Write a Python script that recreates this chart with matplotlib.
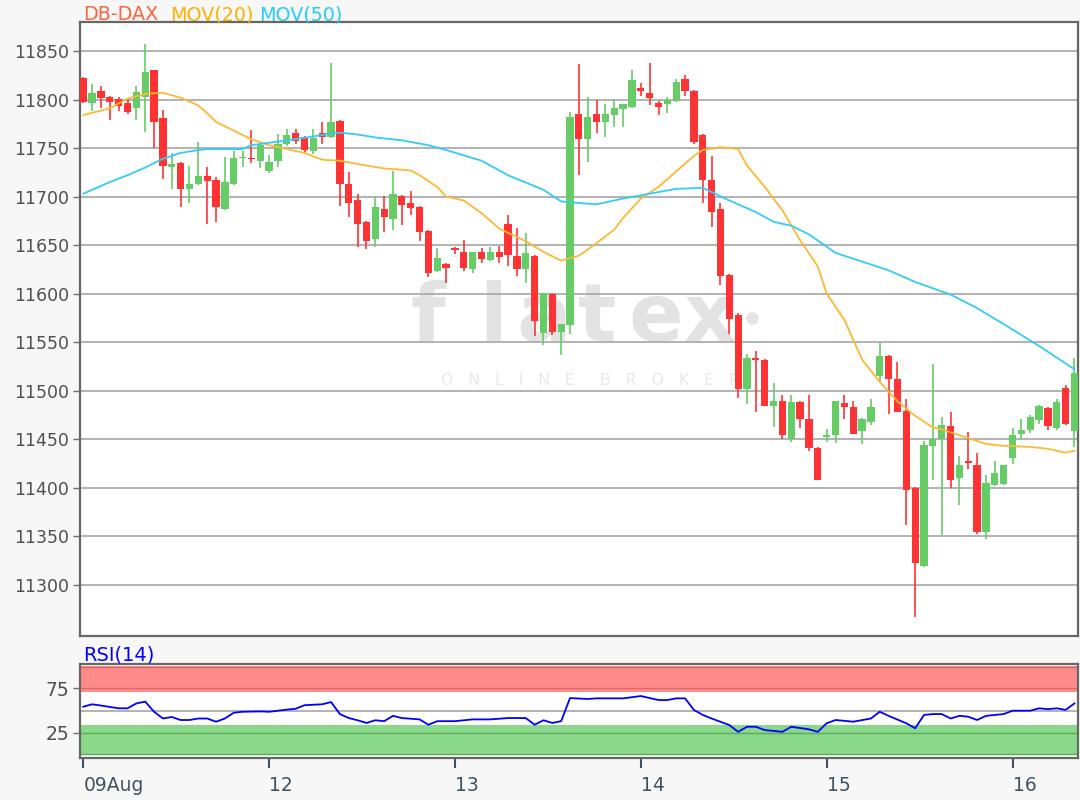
import matplotlib
matplotlib.use('Agg')
import matplotlib.pyplot as plt
import numpy as np

# ---------------- data ----------------
day_labels = ['09Aug', '12', '13', '14', '15', '16']
day_start = [0, 21, 42, 63, 84, 105]

opens = [11822, 11796, 11809, 11803, 11801, 11796, 11791, 11803, 11830, 11781,
         11730, 11735, 11708, 11713, 11721, 11717, 11687, 11713, 11740, 11740,
         11737, 11726, 11737, 11754, 11766, 11761, 11747, 11766, 11761, 11778,
         11713, 11696, 11674, 11656, 11687, 11677, 11701, 11693, 11689, 11665,
         11623, 11631, 11647, 11643, 11625, 11643, 11635, 11643, 11672, 11639,
         11625, 11639, 11559, 11600, 11560, 11568, 11785, 11759, 11785, 11777,
         11784, 11790, 11792, 11812, 11807, 11797, 11795, 11799, 11821, 11809,
         11763, 11717, 11687, 11619, 11578, 11502, 11534, 11532, 11484, 11489,
         11450, 11488, 11471, 11441, 11452, 11454, 11487, 11483, 11458, 11468,
         11515, 11536, 11512, 11479, 11400, 11319, 11443, 11450, 11463, 11410,
         11427, 11423, 11354, 11403, 11404, 11430, 11455, 11459, 11470, 11482,
         11461, 11503, 11458]
highs = [11823, 11816, 11814, 11804, 11803, 11801, 11814, 11857, 11831, 11789,
         11745, 11736, 11732, 11756, 11730, 11720, 11741, 11747, 11747, 11769,
         11754, 11743, 11765, 11770, 11770, 11762, 11770, 11777, 11838, 11779,
         11725, 11703, 11675, 11700, 11701, 11726, 11702, 11706, 11690, 11666,
         11647, 11632, 11648, 11655, 11643, 11647, 11648, 11649, 11681, 11668,
         11662, 11640, 11601, 11601, 11569, 11787, 11837, 11803, 11800, 11795,
         11800, 11795, 11830, 11817, 11838, 11799, 11803, 11821, 11825, 11810,
         11765, 11742, 11693, 11620, 11580, 11538, 11541, 11533, 11508, 11495,
         11495, 11489, 11495, 11442, 11460, 11489, 11495, 11489, 11472, 11491,
         11549, 11537, 11529, 11491, 11401, 11448, 11527, 11473, 11478, 11433,
         11457, 11436, 11413, 11427, 11423, 11461, 11471, 11475, 11485, 11483,
         11491, 11506, 11534]
lows = [11797, 11788, 11791, 11779, 11788, 11785, 11779, 11767, 11750, 11718,
        11708, 11689, 11693, 11712, 11672, 11674, 11686, 11712, 11730, 11735,
        11729, 11724, 11731, 11752, 11754, 11746, 11744, 11754, 11760, 11690,
        11679, 11648, 11646, 11648, 11664, 11666, 11671, 11681, 11654, 11617,
        11622, 11611, 11641, 11623, 11621, 11632, 11634, 11632, 11628, 11618,
        11611, 11556, 11547, 11557, 11537, 11558, 11722, 11736, 11766, 11761,
        11772, 11772, 11791, 11804, 11794, 11784, 11786, 11798, 11804, 11754,
        11693, 11669, 11609, 11558, 11492, 11486, 11478, 11484, 11462, 11450,
        11447, 11461, 11438, 11408, 11447, 11446, 11471, 11455, 11445, 11465,
        11508, 11476, 11478, 11361, 11267, 11318, 11408, 11351, 11400, 11382,
        11419, 11352, 11347, 11402, 11403, 11424, 11450, 11456, 11466, 11459,
        11459, 11465, 11442]
closes = [11798, 11807, 11802, 11798, 11793, 11787, 11808, 11828, 11777, 11732,
          11734, 11708, 11713, 11721, 11716, 11689, 11715, 11740, 11741, 11739,
          11753, 11736, 11754, 11764, 11757, 11748, 11760, 11761, 11777, 11713,
          11693, 11672, 11654, 11689, 11679, 11703, 11691, 11688, 11664, 11621,
          11637, 11626, 11645, 11626, 11643, 11636, 11643, 11638, 11640, 11625,
          11642, 11572, 11601, 11560, 11569, 11782, 11759, 11782, 11777, 11785,
          11791, 11795, 11820, 11809, 11802, 11792, 11800, 11818, 11809, 11756,
          11717, 11684, 11618, 11574, 11502, 11534, 11532, 11484, 11489, 11454,
          11488, 11471, 11441, 11408, 11454, 11489, 11483, 11455, 11471, 11483,
          11536, 11512, 11478, 11398, 11322, 11444, 11450, 11465, 11408, 11423,
          11425, 11354, 11405, 11415, 11423, 11454, 11459, 11473, 11484, 11464,
          11488, 11466, 11518]

ma20_idx = [0, 3, 5, 7, 9, 11, 13, 14, 15, 17, 19, 21, 23, 25, 27, 29, 32, 34,
            37, 38, 40, 41, 43, 45, 47, 50, 52, 54, 56, 58, 60, 61, 63, 65, 67,
            69, 70, 72, 74, 75, 77, 79, 81, 83, 84, 86, 88, 90, 92, 94, 96, 97,
            99, 102, 104, 107, 109, 111, 112]
ma20_val = [11784, 11791, 11801, 11806, 11807, 11802, 11794, 11786, 11777, 11768,
            11759, 11753, 11749, 11745, 11738, 11737, 11732, 11729, 11727, 11722,
            11710, 11700, 11696, 11683, 11667, 11654, 11643, 11634, 11639, 11652,
            11666, 11678, 11698, 11710, 11726, 11742, 11748, 11751, 11749, 11732,
            11710, 11686, 11655, 11628, 11600, 11573, 11532, 11509, 11489, 11474,
            11462, 11460, 11454, 11445, 11443, 11442, 11440, 11436, 11438]

ma50_idx = [0, 3, 5, 7, 9, 11, 13, 14, 18, 19, 23, 26, 28, 29, 31, 33, 36, 39,
            41, 45, 48, 52, 54, 58, 61, 64, 67, 70, 73, 76, 78, 80, 82, 85, 88,
            91, 94, 98, 101, 105, 108, 112]
ma50_val = [11703, 11715, 11722, 11730, 11739, 11745, 11748, 11749, 11749, 11753,
            11758, 11762, 11765, 11766, 11764, 11761, 11758, 11753, 11748, 11737,
            11722, 11707, 11695, 11692, 11698, 11703, 11708, 11709, 11696, 11684,
            11674, 11670, 11661, 11642, 11633, 11624, 11612, 11599, 11585, 11563,
            11546, 11522]

rsi_idx = [0, 1, 2, 3, 4, 5, 6, 7, 8, 9, 10, 11, 12, 13, 14, 15, 16, 17, 18, 20,
           21, 23, 24, 25, 27, 28, 29, 30, 31, 32, 33, 34, 35, 36, 38, 39, 40, 42,
           44, 46, 48, 50, 51, 52, 53, 54, 55, 57, 58, 61, 63, 65, 66, 67, 68, 69,
           70, 71, 73, 74, 75, 76, 77, 79, 80, 82, 83, 84, 85, 87, 89, 90, 91, 93,
           94, 95, 96, 97, 98, 99, 100, 101, 102, 104, 105, 107, 108, 109, 110,
           111, 112]
rsi_val = [54.3, 57, 55.6, 54, 52.5, 52.5, 58, 60, 48.6, 41, 42.7, 39.3, 39.3, 41,
           41, 37.4, 41, 47.5, 48.6, 49, 48.6, 51, 52, 56, 57, 59.5, 46, 41.5, 39,
           36, 39, 38, 44, 41.5, 40, 34, 38, 38, 40, 40, 41.5, 41.5, 34, 39, 36,
           38, 64, 63, 63.7, 63.7, 66.3, 61.8, 61.8, 63.7, 63.7, 50.6, 45, 41,
           33.6, 26, 31.7, 31.7, 28, 26, 31.7, 28.8, 26, 35.6, 39.3, 37.4, 41,
           48.6, 44, 35.6, 30, 45, 46, 46, 41, 44, 43, 39.3, 44, 46, 49.8, 49.8,
           52.5, 51.5, 52.5, 50.7, 58]

price_ticks = [11300, 11350, 11400, 11450, 11500, 11550, 11600, 11650, 11700,
               11750, 11800, 11850]
rsi_ticks = [25, 75]

# ---------------- figure ----------------
W, H = 1080, 800
fig = plt.figure(figsize=(W / 100, H / 100), dpi=100, facecolor='#F7F7F7')


def box(l, t, r, b):
    return [l / W, 1 - b / H, (r - l) / W, (b - t) / H]


ax = fig.add_axes(box(80, 22, 1078, 636))
ax2 = fig.add_axes(box(80, 664, 1078, 758))

n = len(opens)
x = np.arange(n)
o = np.array(opens, float)
h = np.array(highs, float)
lo = np.array(lows, float)
c = np.array(closes, float)
up = c >= o
cols = np.where(up, '#66CC66', '#FF3333')

XMIN, XMAX = -0.37, 112.4
TICKFONT = 'DejaVu Sans'

# main panel
ax.set_facecolor('white')
ax.set_xlim(XMIN, XMAX)
ax.set_ylim(11247, 11880)
for p in price_ticks:
    ax.axhline(p, color='#A6A6A6', lw=1.2, zorder=2)

# watermark
wm_col = '#E3E3E3'


def axfrac(px, py):
    return (px - 80) / 998, (636 - py) / 614


for ch, px in zip(['f', 'l', 'a', 't', 'e', 'x'], [428, 493, 544, 597, 656, 710]):
    fx, fy = axfrac(px, 341)
    ax.text(fx, fy, ch, transform=ax.transAxes, ha='center', va='baseline',
            fontsize=58, fontweight='bold', color=wm_col, family='DejaVu Sans',
            zorder=1)
fx, fy = axfrac(752, 318)
ax.plot([fx], [fy], 'o', ms=8, color=wm_col, transform=ax.transAxes, zorder=1)
fx, fy = axfrac(590, 385)
ax.text(fx, fy, 'O   N   L   I   N   E     B   R   O   K   E   R',
        transform=ax.transAxes, ha='center', va='baseline', fontsize=11.3,
        color='#E8E8E8', family='DejaVu Sans', zorder=1)

ax.vlines(x, lo, h, colors=cols, lw=1.2, zorder=3)
body_bot = np.minimum(o, c)
body_h = np.maximum(np.abs(c - o), 1.3)
ax.bar(x, body_h, bottom=body_bot, width=0.82, color=cols, lw=0, zorder=4)

ax.plot(ma20_idx, ma20_val, color='#FFB833', lw=1.3, zorder=5)
ax.plot(ma50_idx, ma50_val, color='#33CCF5', lw=1.3, zorder=5)

ax.set_yticks(price_ticks)
ax.set_yticklabels([str(p) for p in price_ticks], family=TICKFONT)
ax.set_xticks([])
ax.tick_params(axis='y', length=5, width=1, color='#707070', pad=3,
               labelsize=12.5, labelcolor='#505050')
for s in ax.spines.values():
    s.set_color('#666666')
    s.set_linewidth(1.6)

# RSI panel
ax2.set_facecolor('white')
ax2.set_xlim(XMIN, XMAX)
ax2.set_ylim(-3.5, 102.4)
ax2.axhspan(71, 100, color='#FF8A8A', lw=0, zorder=1)
ax2.axhspan(0, 33.5, color='#8AD88A', lw=0, zorder=1)
ax2.axhline(75, color='#D86A6A', lw=1.0, zorder=2)
ax2.axhline(98.5, color='#D86A6A', lw=1.0, zorder=2)
ax2.axhline(25, color='#5FA85F', lw=1.0, zorder=2)
ax2.axhline(1.5, color='#5FA85F', lw=1.0, zorder=2)
ax2.axhline(50, color='#A6A6A6', lw=1.2, zorder=2)
ax2.plot(rsi_idx, rsi_val, color='#0000FF', lw=1.3, zorder=3)
ax2.set_yticks(rsi_ticks)
ax2.set_yticklabels([str(t) for t in rsi_ticks], family=TICKFONT)
ax2.set_xticks(day_start)
ax2.set_xticklabels(day_labels, ha='left', family=TICKFONT)
ax2.tick_params(axis='y', length=5, width=1, color='#707070', pad=3,
                labelsize=13.5, labelcolor='#505050')
ax2.tick_params(axis='x', length=7, width=1.5, color='#3E5266', pad=6,
                labelsize=13.5, labelcolor='#3E5266')
for s in ax2.spines.values():
    s.set_color('#666666')
    s.set_linewidth(1.6)

# titles
fig.text(83 / W, 1 - 20.5 / H, 'DB-DAX', color='#FF6440', fontsize=13.8,
         family='DejaVu Sans', va='baseline')
fig.text(170 / W, 1 - 20.5 / H, 'MOV(20)', color='#FFB000', fontsize=13.8,
         family='DejaVu Sans', va='baseline')
fig.text(259 / W, 1 - 20.5 / H, 'MOV(50)', color='#22CCFF', fontsize=13.8,
         family='DejaVu Sans', va='baseline')
fig.text(83 / W, 1 - 660.5 / H, 'RSI(14)', color='#0000FF', fontsize=14,
         family='DejaVu Sans', va='baseline')

fig.savefig('out.png', dpi=100, facecolor=fig.get_facecolor())
